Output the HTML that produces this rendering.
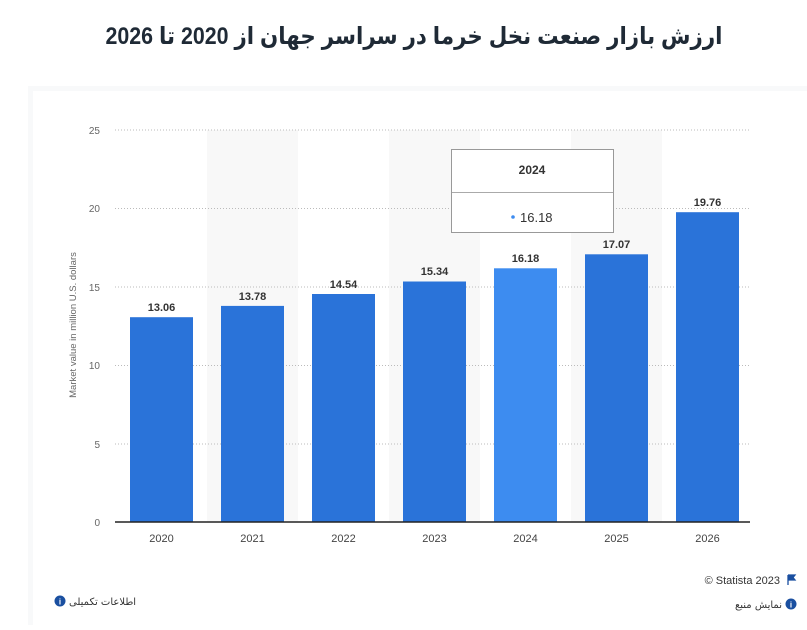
<!DOCTYPE html>
<html><head><meta charset="utf-8"><style>
body{margin:0;width:807px;height:625px;background:#fff;overflow:hidden;font-family:"Liberation Sans","DejaVu Sans",sans-serif;}
</style></head><body>
<svg width="807" height="625" xmlns="http://www.w3.org/2000/svg" font-family="Liberation Sans, DejaVu Sans, sans-serif">
<rect x="0" y="0" width="807" height="625" fill="#fff"/>
<text x="414" y="44" text-anchor="middle" font-size="24" font-weight="bold" fill="#1f2a36" textLength="617" lengthAdjust="spacingAndGlyphs" font-family="Liberation Sans, Noto Sans CJK SC, DejaVu Sans, sans-serif" direction="rtl">ارزش بازار صنعت نخل خرما در سراسر جهان از 2020 تا 2026</text>
<rect x="28" y="86" width="790" height="545" fill="#f8f9fa"/>
<rect x="33" y="91" width="780" height="540" fill="#fff"/>
<g fill="#f8f8f8">
<rect x="207" y="130" width="91" height="392"/>
<rect x="389" y="130" width="91" height="392"/>
<rect x="571" y="130" width="91" height="392"/>
</g>
<g stroke="#bbb" stroke-dasharray="1,2" stroke-width="1">
<line x1="115" y1="130" x2="750" y2="130"/>
<line x1="115" y1="208.5" x2="750" y2="208.5"/>
<line x1="115" y1="287" x2="750" y2="287"/>
<line x1="115" y1="365.5" x2="750" y2="365.5"/>
<line x1="115" y1="444" x2="750" y2="444"/>
</g>
<g font-size="10" fill="#666" text-anchor="end">
<text x="100" y="134">25</text><text x="100" y="212">20</text><text x="100" y="291">15</text><text x="100" y="369">10</text><text x="100" y="448">5</text><text x="100" y="526">0</text>
</g>
<text transform="translate(76,325) rotate(-90)" text-anchor="middle" font-size="9.5" fill="#666">Market value in million U.S. dollars</text>
<g fill="#2a73d9">
<rect x="130" y="317.2" width="63" height="204.8"/>
<rect x="221" y="305.9" width="63" height="216.1"/>
<rect x="312" y="294" width="63" height="228"/>
<rect x="403" y="281.5" width="63" height="240.5"/>
<rect x="494" y="268.3" width="63" height="253.7" fill="#3d8cf0"/>
<rect x="585" y="254.3" width="63" height="267.7"/>
<rect x="676" y="212.2" width="63" height="309.8"/>
</g>
<line x1="115" y1="522" x2="750" y2="522" stroke="#222" stroke-width="1.5"/>
<g font-size="11" fill="#333" text-anchor="middle" font-weight="bold">
<text x="161.5" y="311">13.06</text><text x="252.5" y="300">13.78</text><text x="343.5" y="288">14.54</text><text x="434.5" y="275">15.34</text><text x="525.5" y="262">16.18</text><text x="616.5" y="248">17.07</text><text x="707.5" y="206">19.76</text>
</g>
<g font-size="11" fill="#444" text-anchor="middle">
<text x="161.5" y="542">2020</text><text x="252.5" y="542">2021</text><text x="343.5" y="542">2022</text><text x="434.5" y="542">2023</text><text x="525.5" y="542">2024</text><text x="616.5" y="542">2025</text><text x="707.5" y="542">2026</text>
</g>
<rect x="451.5" y="149.5" width="162" height="83" fill="#fff" stroke="#999"/>
<line x1="452" y1="192.5" x2="613" y2="192.5" stroke="#aaa"/>
<text x="532" y="174" text-anchor="middle" font-size="12" font-weight="bold" fill="#333">2024</text>
<circle cx="513" cy="217" r="1.8" fill="#3d8cf0"/>
<text x="520" y="222" font-size="13" fill="#333">16.18</text>
<text x="780" y="584" text-anchor="end" font-size="11" fill="#333">© Statista 2023</text>
<path d="M788 575 v10 M788 575 h7 l-2 2.5 l2 2.5 h-7" fill="#1a4fa0" stroke="#1a4fa0" stroke-width="1.3"/>
<circle cx="791" cy="604" r="5.5" fill="#1a4fa0"/><text x="791" y="607.5" text-anchor="middle" font-size="8" font-weight="bold" fill="#fff">i</text>
<text x="782" y="608" text-anchor="end" font-size="10" fill="#333" font-family="DejaVu Sans, Noto Sans CJK SC, sans-serif">نمایش منبع</text>
<circle cx="60" cy="601" r="5.5" fill="#1a4fa0"/><text x="60" y="604.5" text-anchor="middle" font-size="8" font-weight="bold" fill="#fff">i</text>
<text x="69" y="605" font-size="10" fill="#333" font-family="DejaVu Sans, Noto Sans CJK SC, sans-serif">اطلاعات تکمیلی</text>
</svg>
</body></html>
